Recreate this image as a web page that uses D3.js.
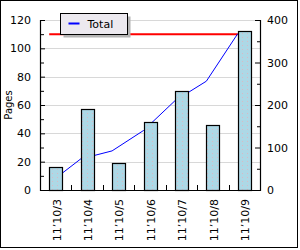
<!DOCTYPE html>
<html>
<head>
<meta charset="utf-8">
<script src="https://cdn.jsdelivr.net/npm/d3@7"></script>
<style>
  body { margin: 0; background: #fff; }
  svg { display: block; }
  text { font-family: "DejaVu Sans", sans-serif; fill: #000; }
</style>
</head>
<body>
<div id="container"></div>
<script>
const days = ['11\u201910/3', '11\u201910/4', '11\u201910/5', '11\u201910/6', '11\u201910/7', '11\u201910/8', '11\u201910/9'];
const pages = [16, 57, 19, 48, 70, 46, 112];
const total = [16, 73, 92, 140, 210, 256, 368];
const target = 110;
const leftTicks = [0, 20, 40, 60, 80, 100, 120];
const rightTicks = [0, 100, 200, 300, 400];

const width = 300;
const height = 250;
const margin = {top: 20, right: 40, bottom: 60, left: 40};
const barWidth = 13;

const svg = d3.select('#container')
  .append('svg')
  .attr('width', width)
  .attr('height', height);

// faint dot texture seen inside the bars
const pat = svg.append('defs').append('pattern')
  .attr('id', 'dots')
  .attr('patternUnits', 'userSpaceOnUse')
  .attr('width', 5)
  .attr('height', 4);
pat.append('rect').attr('width', 5).attr('height', 4).attr('fill', '#add8e6');
pat.append('rect').attr('x', 2).attr('y', 1).attr('width', 1).attr('height', 1).attr('fill', '#d9b9c4');

// outer frame
svg.append('rect')
  .attr('x', 0.5).attr('y', 0.5)
  .attr('width', 297).attr('height', 247)
  .attr('fill', '#fff')
  .attr('stroke', '#000');

const x = d3.scaleBand()
  .domain(days)
  .range([margin.left, width - margin.right]);

const y = d3.scaleLinear()
  .domain([0, 120])
  .range([height - margin.bottom, margin.top]);

const y2 = d3.scaleLinear()
  .domain([0, 400])
  .range([height - margin.bottom, margin.top]);

const barX = d => x(d) + (x.bandwidth() - barWidth) / 2;

// gridlines
svg.append('g')
  .selectAll('line')
  .data(leftTicks.slice(1))
  .enter()
  .append('line')
  .attr('x1', margin.left)
  .attr('x2', width - margin.right)
  .attr('y1', d => Math.round(y(d)) + 0.5)
  .attr('y2', d => Math.round(y(d)) + 0.5)
  .attr('stroke', '#d8d8d8');

// target line
svg.append('line')
  .attr('x1', barX(days[0]))
  .attr('x2', barX(days[days.length - 1]))
  .attr('y1', y(target))
  .attr('y2', y(target))
  .attr('stroke', '#ff0000')
  .attr('stroke-width', 2);

// cumulative total line (right axis)
const line = d3.line()
  .x((d, i) => barX(days[i]))
  .y(d => y2(d));

svg.append('path')
  .datum(total)
  .attr('d', line)
  .attr('fill', 'none')
  .attr('stroke', '#0000ff')
  .attr('stroke-width', 1);

// bars
svg.append('g')
  .selectAll('rect')
  .data(pages)
  .enter()
  .append('rect')
  .attr('x', (d, i) => Math.round(barX(days[i])) + 0.5)
  .attr('y', d => Math.round(y(d)) + 0.5)
  .attr('width', barWidth)
  .attr('height', d => Math.round(y(0)) - Math.round(y(d)))
  .attr('fill', 'url(#dots)')
  .attr('stroke', '#000')
  .attr('stroke-width', 1.2);

// axes
const leftAxis = d3.axisLeft(y)
  .tickValues(d3.range(0, 121, 10))
  .tickSize(-5)
  .tickFormat(d => d % 20 === 0 ? d : '');

const gl = svg.append('g')
  .attr('transform', `translate(${margin.left},0)`)
  .call(leftAxis);
gl.selectAll('.tick line').attr('x2', d => d % 20 === 0 ? 5 : 4);
gl.selectAll('.tick text').attr('x', -9).style('font-size', '11px');

const rightAxis = d3.axisRight(y2)
  .tickValues(d3.range(0, 401, 50))
  .tickSize(-5)
  .tickFormat(d => d % 100 === 0 ? d : '');

const gr = svg.append('g')
  .attr('transform', `translate(${width - margin.right},0)`)
  .call(rightAxis);
gr.selectAll('.tick line').attr('x2', d => d % 100 === 0 ? -5 : -3);
gr.selectAll('.tick text').attr('x', 7).style('font-size', '11px');

const bottomAxis = d3.axisBottom(x).tickSize(0);
const gb = svg.append('g')
  .attr('transform', `translate(0,${height - margin.bottom})`)
  .call(bottomAxis);
gb.selectAll('.tick text')
  .attr('transform', 'rotate(-90)')
  .attr('x', -9)
  .attr('y', 1)
  .attr('dy', '0.35em')
  .attr('text-anchor', 'end')
  .style('font-size', '11px');

// category separators on the x axis
svg.append('g')
  .selectAll('line')
  .data(days.slice(1))
  .enter()
  .append('line')
  .attr('x1', d => Math.round(x(d)) + 0.5)
  .attr('x2', d => Math.round(x(d)) + 0.5)
  .attr('y1', y(0))
  .attr('y2', y(0) - 5)
  .attr('stroke', '#000');

svg.selectAll('.domain').attr('stroke', '#000').attr('stroke-width', 1.2);

svg.append('text')
  .attr('transform', `translate(12,${(margin.top + height - margin.bottom) / 2}) rotate(-90)`)
  .attr('text-anchor', 'middle')
  .style('font-size', '10px')
  .text('Pages');

// legend
const lg = svg.append('g').attr('transform', 'translate(60.5,13.5)');
lg.append('rect')
  .attr('x', 3).attr('y', 3)
  .attr('width', 67).attr('height', 21)
  .attr('fill', '#b4b4b4');
lg.append('rect')
  .attr('width', 67).attr('height', 21)
  .attr('fill', '#ece9ef')
  .attr('stroke', '#000');
lg.append('line')
  .attr('x1', 8).attr('x2', 19)
  .attr('y1', 10).attr('y2', 10)
  .attr('stroke', '#0000ff')
  .attr('stroke-width', 2);
lg.append('text')
  .attr('x', 27).attr('y', 14.5)
  .style('font-size', '11px')
  .text('Total');
</script>
</body>
</html>
